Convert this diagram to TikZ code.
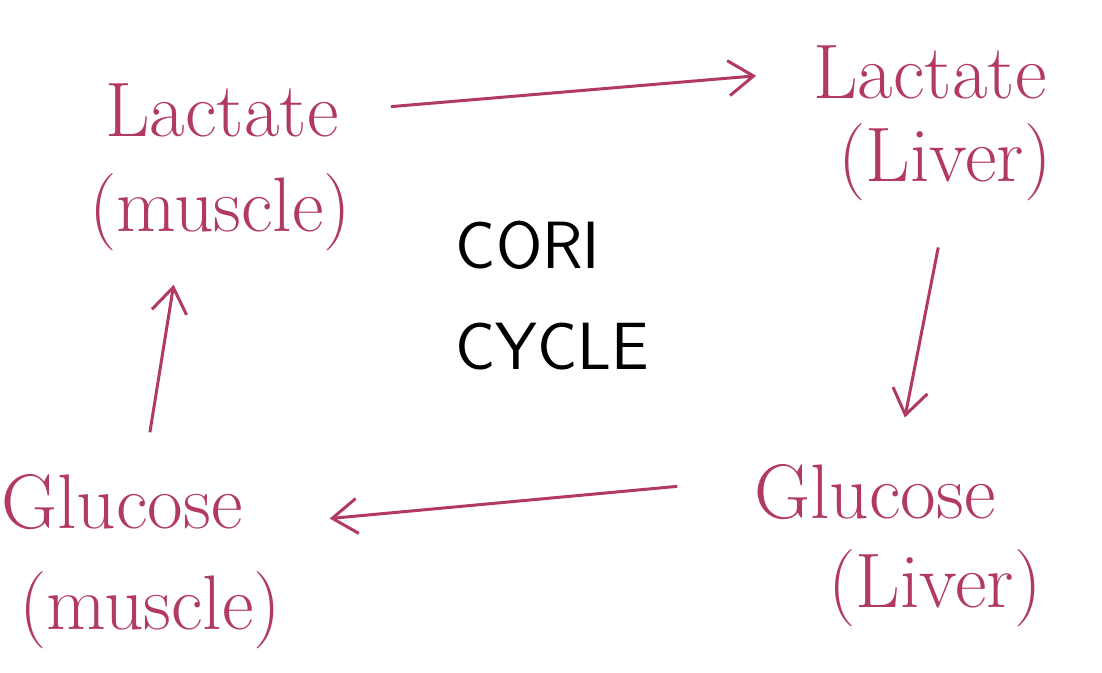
\documentclass[tikz,border=0pt]{standalone}
\usepackage{amsmath, amsfonts, amssymb}
\usepackage[dvipsnames]{xcolor}
\usepackage{tikz}
\usetikzlibrary{arrows.meta}

\definecolor{inkred}{HTML}{B23A62}

\begin{document}
\begin{tikzpicture}[x=0.01cm, y=-0.01cm,
        pink/.style={text=inkred, font=\fontsize{22}{26}\selectfont},
        cycletext/.style={text=black, font=\fontsize{19}{23}\selectfont\sffamily},
        flow/.style={draw=inkred, line width=0.3mm, -{Straight Barb[length=2.5mm, width=3.5mm]}}]
        \useasboundingbox (0, 0) rectangle (1102, 673);

        \node[pink] (LMa) at (222, 110) {Lactate};
        \node[pink] (LMb) at (220, 212) {(muscle)};
        \node[pink] (LLa) at (930, 72) {Lactate};
        \node[pink] (LLb) at (945, 162) {(Liver)};
        \node[pink] (GLa) at (875, 492) {Glucose};
        \node[pink] (GLb) at (935, 588) {(Liver)};
        \node[pink] (GMa) at (122, 502) {Glucose};
        \node[pink] (GMb) at (150, 610) {(muscle)};

        \node[cycletext] (CA) at (528, 245) {CORI};
        \node[cycletext] (CB) at (552, 347) {CYCLE};

        \draw [flow, shorten <=40*0.01cm, shorten >=45*0.01cm] (LMa.east) -- (LLa.west);
        \draw [flow, shorten <=35*0.01cm, shorten >=35*0.01cm] (LLb.south) -- (GLa.60);
        \draw [flow, shorten <=65*0.01cm, shorten >=75*0.01cm] (GLa.175) -- (GMa.-10);
        \draw [flow, shorten <=30*0.01cm, shorten >=22*0.01cm] (GMa.60) -- (LMb.230);
    \end{tikzpicture}
\end{document}
